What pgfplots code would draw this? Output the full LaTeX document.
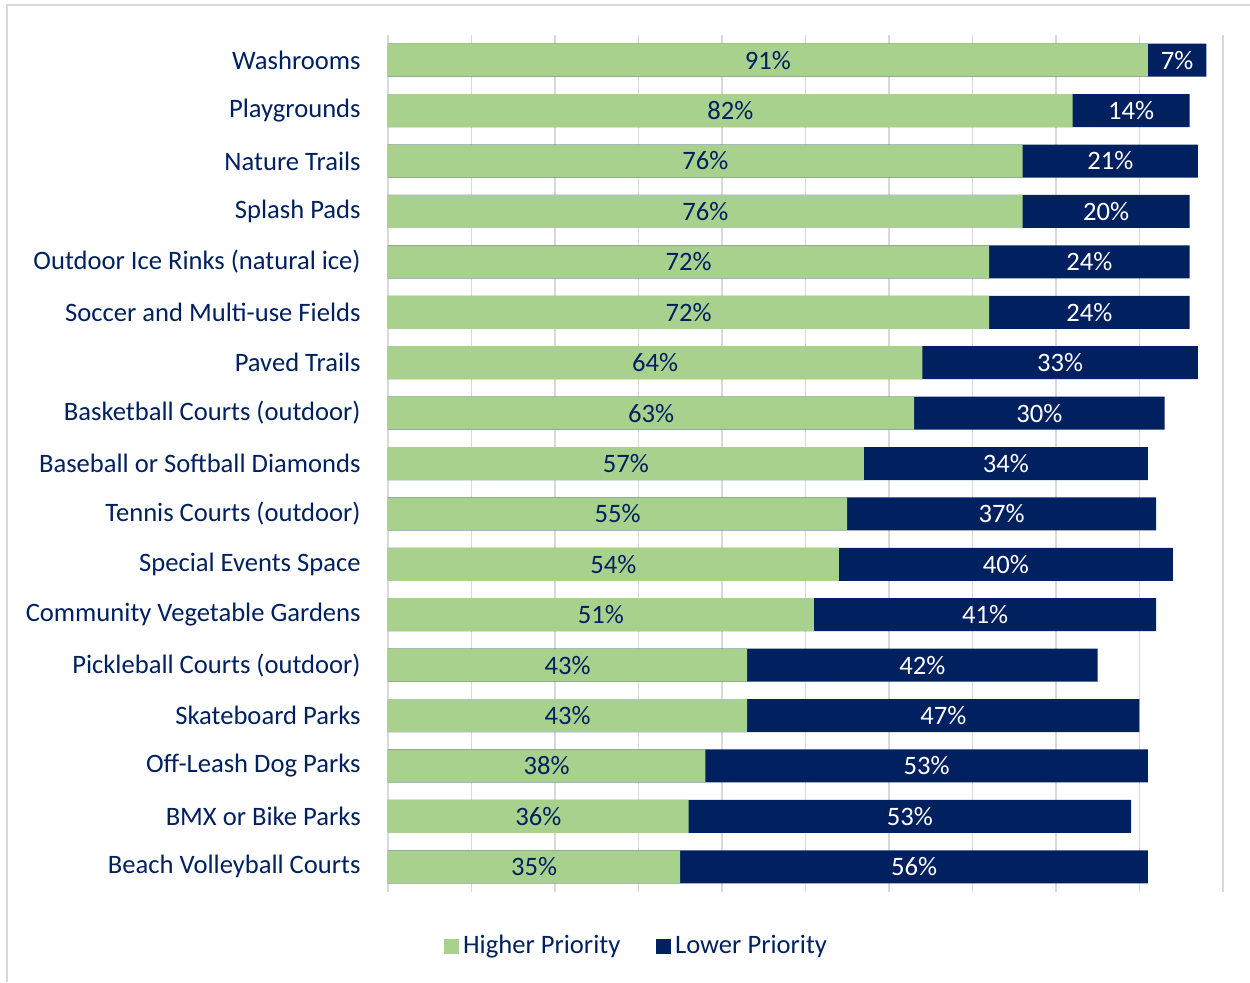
\documentclass[border=0pt]{standalone}
\usepackage{pgfplots}
\pgfplotsset{compat=1.18}
\usepackage{pgfplotstable}
\usepackage{fontspec}
\setmainfont{Carlito}

\definecolor{hgreen}{HTML}{A9D18E}
\definecolor{lnavy}{HTML}{002060}
\definecolor{gridgray}{HTML}{D9D9D9}

% priority shares in percent: g = higher, l = lower
\pgfplotstableread{
idx g  l
0   91 7
1   82 14
2   76 21
3   76 20
4   72 24
5   72 24
6   64 33
7   63 30
8   57 34
9   55 37
10  54 40
11  51 41
12  43 42
13  43 47
14  38 53
15  36 53
16  35 56
}\prio

\begin{document}
\begin{tikzpicture}[font=\fontsize{13.3}{16}\selectfont]
\path[use as bounding box] (0,0) rectangle (625pt,491pt);
\draw[gridgray, line width=0.75pt] (3.5pt,0) -- (3.5pt,488.5pt) -- (625pt,488.5pt);
\begin{axis}[
    at={(194pt,45pt)}, anchor=south west,
    scale only axis,
    width=417.5pt, height=428.5pt,
    xmin=0, xmax=100,
    ymin=-0.5, ymax=16.5,
    y dir=reverse,
    axis line style={draw=none},
    xtick={0,10,...,100},
    xticklabels={},
    xmajorgrids,
    grid style={gridgray, line width=0.75pt},
    major tick length=0pt,
    ytick={0,...,16},
    yticklabels={Washrooms, Playgrounds, Nature Trails, Splash Pads,
        Outdoor Ice Rinks (natural ice), Soccer and Multi-use Fields,
        Paved Trails, Basketball Courts (outdoor), Baseball or Softball Diamonds,
        Tennis Courts (outdoor), Special Events Space, Community Vegetable Gardens,
        Pickleball Courts (outdoor), Skateboard Parks, Off-Leash Dog Parks,
        BMX or Bike Parks, Beach Volleyball Courts},
    y tick label style={text=lnavy, inner sep=0pt, xshift=-13.5pt},
    /pgf/number format/assume math mode=true,
    legend style={draw=none, fill=none, legend columns=2,
        at={(0.299,-0.063)}, anchor=center, text=lnavy,
        /tikz/every even column/.append style={column sep=16pt}},
    legend cell align=left,
]
% navy bar behind, to the sum; green bar in front
\addplot[xbar, bar width=16.5pt, bar shift=0pt, fill=lnavy, draw=none, forget plot]
    table[x expr=\thisrow{g}+\thisrow{l}, y=idx] {\prio};
\addplot[xbar, bar width=16.5pt, bar shift=0pt, fill=hgreen, draw=none, forget plot]
    table[x=g, y=idx] {\prio};
% labels in the middle of each piece
\addplot[draw=none, mark=none, forget plot, point meta=explicit,
    nodes near coords={\pgfmathprintnumber{\pgfplotspointmeta}\%},
    every node near coord/.style={anchor=center, text=lnavy}]
    table[x expr=\thisrow{g}/2, y=idx, meta=g] {\prio};
\addplot[draw=none, mark=none, forget plot, point meta=explicit,
    nodes near coords={\pgfmathprintnumber{\pgfplotspointmeta}\%},
    every node near coord/.style={anchor=center, text=white}]
    table[x expr=\thisrow{g}+\thisrow{l}/2, y=idx, meta=l] {\prio};
\addlegendimage{legend image code/.code={\fill[hgreen] (-2pt,-3.5pt) rectangle (5pt,3.5pt);}}
\addlegendentry{Higher Priority}
\addlegendimage{legend image code/.code={\fill[lnavy] (-2pt,-3.5pt) rectangle (5pt,3.5pt);}}
\addlegendentry{Lower Priority}
\end{axis}
\end{tikzpicture}
\end{document}
